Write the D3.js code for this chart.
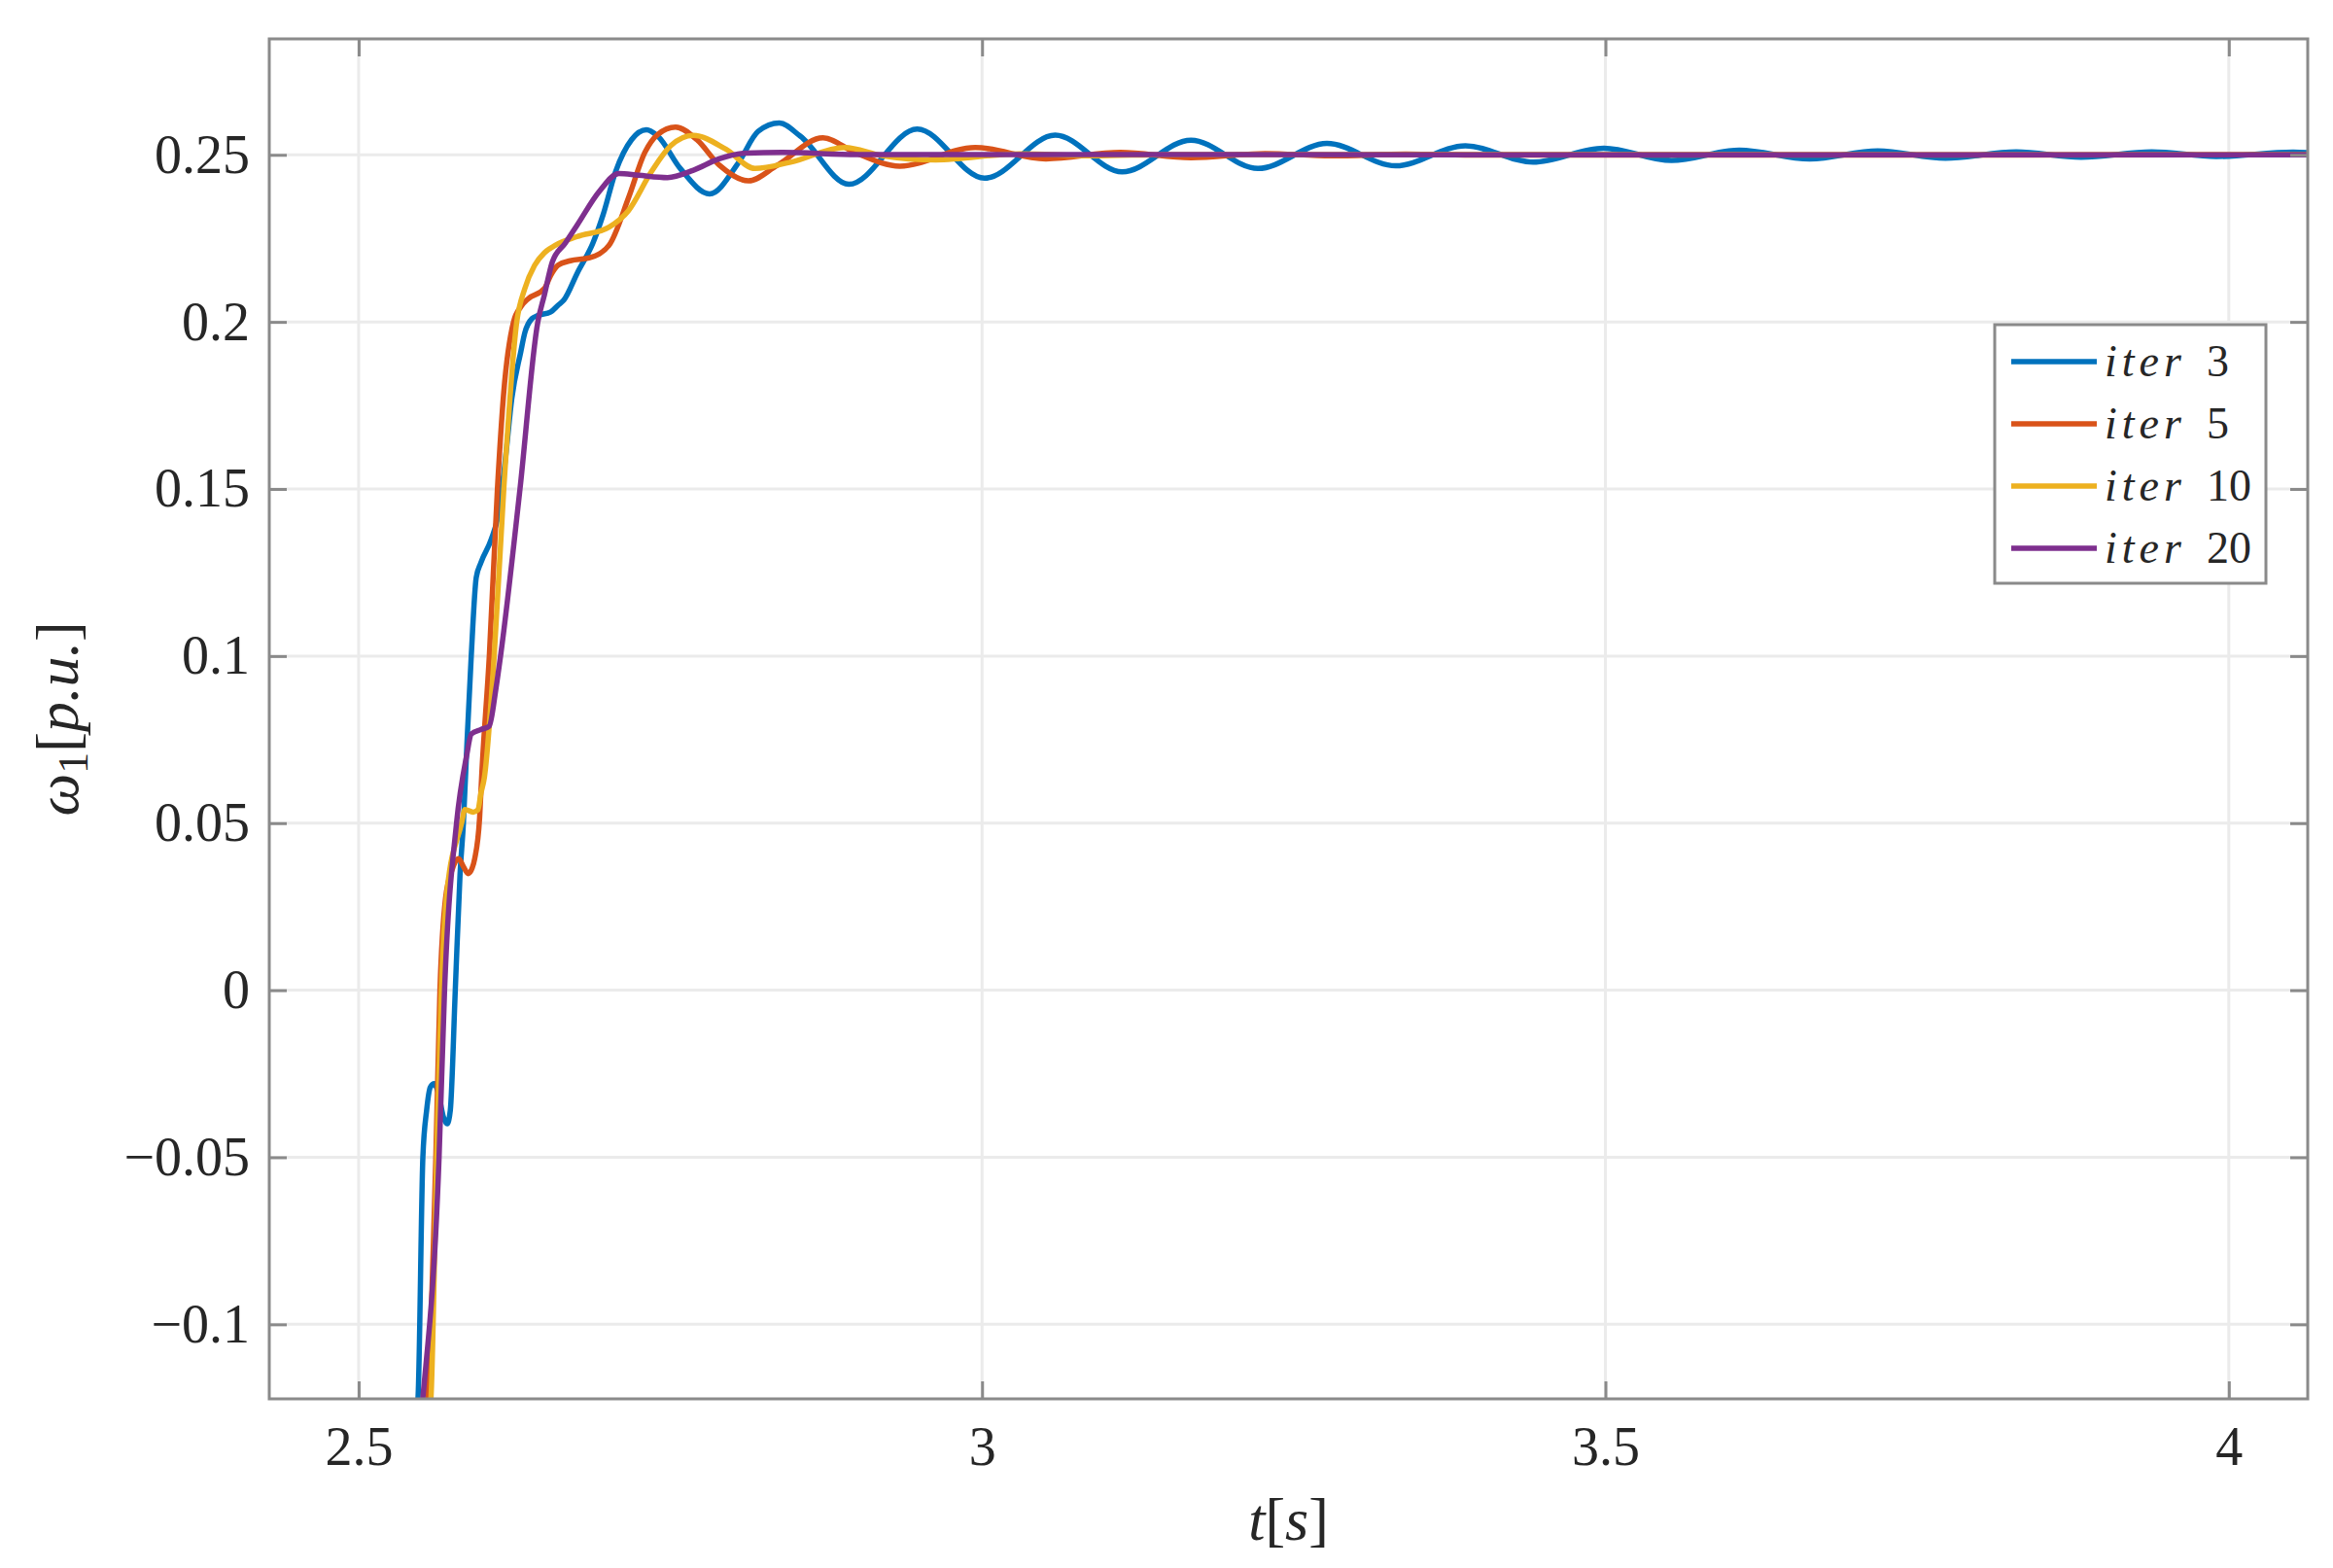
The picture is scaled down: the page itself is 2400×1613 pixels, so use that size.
<!DOCTYPE html>
<html>
<head>
<meta charset="utf-8">
<script src="https://cdn.jsdelivr.net/npm/d3@7"></script>
<style>
  body { margin: 0; background: #fff; }
  text { font-family: "Liberation Serif", "DejaVu Serif", serif; fill: #262626; }
</style>
</head>
<body>
<svg id="chart"></svg>
<script>
// axis ticks
const xTicks = [2.5, 3, 3.5, 4];
const yTicks = [-0.1, -0.05, 0, 0.05, 0.1, 0.15, 0.2, 0.25];
const xDomain = [2.4283, 4.0633];
const yDomain = [-0.1223, 0.2847];

// legend
const iterCounts = [3, 5, 10, 20];
const colors = ["#0072BD", "#D95319", "#EDB120", "#7E2F8E"];

// [t, w1]
const iter3 = [
  [2.540, -0.145], [2.5476, -0.122], [2.5515, -0.050], [2.5545, -0.036], [2.5575, -0.029],
  [2.5606, -0.028], [2.5640, -0.031], [2.5680, -0.038], [2.5710, -0.040], [2.5735, -0.036],
  [2.5775, 0.000], [2.5813, 0.0346], [2.5840, 0.050], [2.5870, 0.075], [2.5903, 0.100],
  [2.5943, 0.1235], [2.5981, 0.1280], [2.6060, 0.1346], [2.6124, 0.1430], [2.6180, 0.1600],
  [2.6228, 0.1770], [2.6300, 0.1910], [2.6333, 0.1968], [2.6390, 0.2010], [2.6437, 0.2019],
  [2.6541, 0.2030], [2.6600, 0.2050], [2.6645, 0.2065], [2.6757, 0.2149], [2.6879, 0.2236],
  [2.6960, 0.2320], [2.7060, 0.2449], [2.7190, 0.2546], [2.7308, 0.2575], [2.7399, 0.2556],
  [2.7580, 0.2459], [2.7815, 0.2383], [2.8049, 0.2478], [2.8204, 0.2570], [2.8374, 0.2595],
  [2.8542, 0.2556], [2.8932, 0.2412], [2.9480, 0.2577], [3.0020, 0.2430], [3.0587, 0.2559],
  [3.1124, 0.2449], [3.1676, 0.2544], [3.2213, 0.2459], [3.2766, 0.2534], [3.3318, 0.2467],
  [3.3877, 0.2527], [3.4420, 0.2478], [3.4987, 0.2520], [3.5530, 0.2483], [3.6074, 0.2514],
  [3.6640, 0.2488], [3.7185, 0.2512], [3.7728, 0.2490], [3.8295, 0.2509], [3.8815, 0.2493],
  [3.9382, 0.2509], [3.9900, 0.2495], [4.0516, 0.2508], [4.0700, 0.2505]
];

const iter5 = [
  [2.548, -0.145], [2.5554, -0.122], [2.5619, -0.050], [2.5652, 0.000], [2.5697, 0.0275],
  [2.5749, 0.0360], [2.5801, 0.0394], [2.5840, 0.0370], [2.5879, 0.0349], [2.5910, 0.0365],
  [2.5931, 0.0394], [2.5970, 0.0515], [2.5988, 0.0650], [2.6048, 0.100], [2.6113, 0.150],
  [2.6164, 0.179], [2.6242, 0.200], [2.6300, 0.2045], [2.6359, 0.2069], [2.6490, 0.2100],
  [2.6541, 0.2140], [2.6600, 0.2170], [2.6697, 0.2183], [2.6853, 0.2192], [2.7009, 0.2230],
  [2.7165, 0.2372], [2.7295, 0.2507], [2.7399, 0.2561], [2.7542, 0.2583], [2.7711, 0.2546],
  [2.7893, 0.2469], [2.8126, 0.2422], [2.8360, 0.2469], [2.8724, 0.2551], [2.8980, 0.2507],
  [2.9340, 0.2466], [2.9945, 0.2522], [3.0512, 0.2488], [3.1110, 0.2507], [3.1676, 0.2491],
  [3.2270, 0.2504], [3.2800, 0.2497], [3.3400, 0.2502], [3.4000, 0.2499], [4.0700, 0.2500]
];

const iter10 = [
  [2.551, -0.145], [2.5580, -0.122], [2.5626, -0.050], [2.5663, 0.000], [2.5710, 0.030],
  [2.5826, 0.050], [2.5852, 0.0541], [2.5918, 0.0533], [2.5957, 0.0540], [2.5980, 0.0588],
  [2.6008, 0.0636], [2.6087, 0.100], [2.6164, 0.150], [2.6268, 0.200], [2.6333, 0.2100],
  [2.6411, 0.2169], [2.6490, 0.2207], [2.6580, 0.2230], [2.6749, 0.2255], [2.7009, 0.2284],
  [2.7164, 0.2333], [2.7347, 0.2449], [2.7502, 0.2527], [2.7685, 0.2558], [2.7945, 0.2517],
  [2.8179, 0.2459], [2.8464, 0.2478], [2.8900, 0.2522], [2.9192, 0.2498], [2.9630, 0.2485],
  [3.0300, 0.2503], [3.0900, 0.2497], [3.1500, 0.2501], [4.0700, 0.2500]
];

const iter20 = [
  [2.545, -0.145], [2.5515, -0.122], [2.5645, -0.050], [2.5689, 0.000], [2.5785, 0.050],
  [2.5865, 0.0700], [2.5904, 0.0767], [2.5980, 0.0780], [2.6047, 0.0790], [2.6100, 0.0900],
  [2.6138, 0.1000], [2.6294, 0.1500], [2.6437, 0.2000], [2.6490, 0.2081], [2.6554, 0.2180],
  [2.6658, 0.2236], [2.6753, 0.2290], [2.6931, 0.2391], [2.7087, 0.2444], [2.7243, 0.2439],
  [2.7477, 0.2432], [2.7685, 0.2454], [2.7891, 0.2488], [2.8100, 0.2505], [2.8400, 0.2507],
  [2.9000, 0.2501], [4.0700, 0.2500]
];

const series = [iter3, iter5, iter10, iter20];

var width = 2400,
    height = 1613;
const margin = {top: 40, right: 26, bottom: 174, left: 277};
const plotW = width - margin.left - margin.right,
      plotH = height - margin.top - margin.bottom;

const axisGray = "#8a8a8a";
const tickLen = 18;
const lineW = 5.5;

const svg = d3.select("#chart")
  .attr("width", width)
  .attr("height", height);

svg.append("rect").attr("width", width).attr("height", height).attr("fill", "#fff");

const x = d3.scaleLinear().domain(xDomain).range([0, plotW]);
const y = d3.scaleLinear().domain(yDomain).range([plotH, 0]);

const g = svg.append("g").attr("transform", `translate(${margin.left},${margin.top})`);

svg.append("defs").append("clipPath").attr("id", "plotClip")
  .append("rect").attr("width", plotW).attr("height", plotH);

// grid
g.append("g").selectAll("line").data(xTicks).join("line")
  .attr("x1", d => x(d)).attr("x2", d => x(d))
  .attr("y1", 0).attr("y2", plotH)
  .attr("stroke", "#ebebeb").attr("stroke-width", 3);
g.append("g").selectAll("line").data(yTicks).join("line")
  .attr("x1", 0).attr("x2", plotW)
  .attr("y1", d => y(d)).attr("y2", d => y(d))
  .attr("stroke", "#ebebeb").attr("stroke-width", 3);

// the curves
const line = d3.line()
  .x(d => x(d[0]))
  .y(d => y(d[1]))
  .curve(d3.curveMonotoneX);

g.append("g").attr("clip-path", "url(#plotClip)")
  .selectAll("path").data(series).join("path")
  .attr("d", line)
  .attr("fill", "none")
  .attr("stroke", (d, i) => colors[i])
  .attr("stroke-width", lineW)
  .attr("stroke-linejoin", "round");

// axes, ticks pointing inwards
const fmt = d => (d < 0 ? "\u2212" : "") + String(Math.abs(d));

function styleAxis(sel) {
  sel.select(".domain").remove();
  sel.selectAll(".tick line").attr("stroke", axisGray).attr("stroke-width", 3);
  sel.selectAll(".tick text").style("font-size", "56px").attr("fill", "#262626");
}

g.append("g").attr("transform", `translate(0,${plotH})`)
  .call(d3.axisBottom(x).tickValues(xTicks).tickSizeInner(-tickLen).tickSizeOuter(0).tickPadding(28).tickFormat(String))
  .call(styleAxis);
g.append("g")
  .call(d3.axisTop(x).tickValues(xTicks).tickSizeInner(-tickLen).tickSizeOuter(0).tickFormat(""))
  .call(styleAxis);
g.append("g")
  .call(d3.axisLeft(y).tickValues(yTicks).tickSizeInner(-tickLen).tickSizeOuter(0).tickPadding(20).tickFormat(fmt))
  .call(styleAxis);
g.append("g").attr("transform", `translate(${plotW},0)`)
  .call(d3.axisRight(y).tickValues(yTicks).tickSizeInner(-tickLen).tickSizeOuter(0).tickFormat(""))
  .call(styleAxis);

// box
g.append("rect")
  .attr("width", plotW).attr("height", plotH)
  .attr("fill", "none").attr("stroke", axisGray).attr("stroke-width", 3);

// axis labels
const xl = svg.append("text")
  .attr("x", margin.left + plotW / 2).attr("y", 1584)
  .attr("text-anchor", "middle").style("font-size", "62px");
xl.append("tspan").attr("font-style", "italic").text("t");
xl.append("tspan").text("[");
xl.append("tspan").attr("font-style", "italic").text("s");
xl.append("tspan").text("]");

const yl = svg.append("text")
  .attr("transform", `translate(80,${margin.top + plotH / 2}) rotate(-90)`)
  .attr("text-anchor", "middle").style("font-size", "62px");
yl.append("tspan").attr("font-style", "italic").text("\u03c9");
yl.append("tspan").attr("dy", 10).style("font-size", "44px").text("1");
yl.append("tspan").attr("dy", -10).text("[");
yl.append("tspan").attr("font-style", "italic").text("p.u.");
yl.append("tspan").text("]");

// legend
const legend = svg.append("g").attr("transform", "translate(2052,334)");
legend.append("rect")
  .attr("width", 279).attr("height", 266)
  .attr("fill", "#fff").attr("stroke", axisGray).attr("stroke-width", 3);

const rows = legend.selectAll("g.row").data(iterCounts).join("g")
  .attr("class", "row")
  .attr("transform", (d, i) => `translate(0,${38 + i * 64})`);
rows.append("line")
  .attr("x1", 17).attr("x2", 105)
  .attr("stroke", (d, i) => colors[i]).attr("stroke-width", lineW);
rows.append("text")
  .attr("x", 113).attr("y", 15)
  .attr("font-style", "italic").attr("letter-spacing", "5px")
  .style("font-size", "46px")
  .text("iter");
rows.append("text")
  .attr("x", 218).attr("y", 15)
  .style("font-size", "46px")
  .text(d => d);
</script>
</body>
</html>
